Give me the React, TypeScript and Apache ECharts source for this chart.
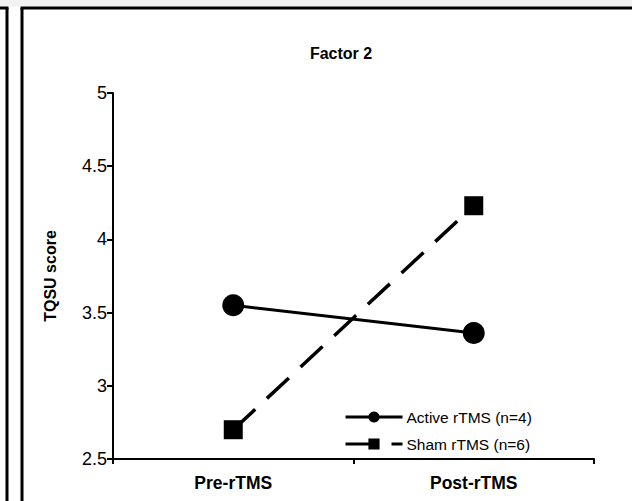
import React, { useEffect, useRef } from "react";
import * as echarts from "echarts";

const categories = ["Pre-rTMS", "Post-rTMS"];
const activeValues = [3.55, 3.36];
const shamValues = [2.7, 4.23];
const seriesNames = ["Active rTMS (n=4)", "Sham rTMS (n=6)"];
const yMin = 2.5;
const yMax = 5;
const yInterval = 0.5;
const titleText = "Factor 2";
const yAxisName = "TQSU score";

const FONT = "'Liberation Sans', Arial, sans-serif";

export default function App() {
  const ref = useRef<HTMLDivElement>(null);
  useEffect(() => {
    if (!ref.current) return;
    const chart = echarts.init(ref.current, undefined, { renderer: "svg" });
    chart.setOption({
      animation: false,
      backgroundColor: "#ffffff",
      graphic: [
        { type: "rect", shape: { x: 0, y: 0, width: 632, height: 6.5 }, style: { fill: "#f2f2f2" }, silent: true },
        { type: "line", shape: { x1: 7, y1: 8, x2: 7, y2: 501 }, style: { stroke: "#000", lineWidth: 3 }, silent: true },
        { type: "line", shape: { x1: 0, y1: 8, x2: 8.5, y2: 8 }, style: { stroke: "#000", lineWidth: 3 }, silent: true },
        { type: "line", shape: { x1: 22, y1: 8, x2: 22, y2: 501 }, style: { stroke: "#000", lineWidth: 3 }, silent: true },
        { type: "line", shape: { x1: 20.5, y1: 8, x2: 632, y2: 8 }, style: { stroke: "#000", lineWidth: 3 }, silent: true },
      ],
      title: {
        text: titleText,
        left: 336,
        textAlign: "center",
        top: 40,
        textStyle: { fontFamily: FONT, fontSize: 16, fontWeight: "bold", color: "#000" },
      },
      legend: {
        orient: "vertical",
        left: 339,
        top: 404,
        itemWidth: 57,
        itemHeight: 14,
        itemGap: 11,
        lineStyle: { width: 3 },
        textStyle: { fontFamily: FONT, fontSize: 15.5, color: "#000", padding: [0, 0, 0, -1] },
        data: seriesNames,
      },
      grid: { left: 113, right: 38, top: 93, bottom: 42 },
      xAxis: {
        type: "category",
        data: categories,
        boundaryGap: true,
        axisLine: { lineStyle: { color: "#000", width: 2 } },
        axisTick: { show: true, length: 5, alignWithLabel: false, lineStyle: { color: "#000", width: 2 } },
        axisLabel: { fontFamily: FONT, fontSize: 17.5, fontWeight: "bold", color: "#000", margin: 15 },
        splitLine: { show: false },
      },
      yAxis: {
        type: "value",
        min: yMin,
        max: yMax,
        interval: yInterval,
        name: yAxisName,
        nameLocation: "middle",
        nameGap: 55,
        nameTextStyle: { fontFamily: FONT, fontSize: 16, fontWeight: "bold", color: "#000" },
        axisLine: { show: true, lineStyle: { color: "#000", width: 2 } },
        axisTick: { show: true, length: 6, lineStyle: { color: "#000", width: 2 } },
        axisLabel: { fontFamily: FONT, fontSize: 18, color: "#000", margin: 6 },
        splitLine: { show: false },
      },
      series: [
        {
          name: seriesNames[0],
          type: "line",
          data: activeValues,
          symbol: "circle",
          symbolSize: 22,
          lineStyle: { color: "#000", width: 3, type: "solid" },
          itemStyle: { color: "#000" },
        },
        {
          name: seriesNames[1],
          type: "line",
          data: shamValues,
          symbol: "rect",
          symbolSize: 19,
          lineStyle: { color: "#000", width: 3.5, type: [30, 16] },
          itemStyle: { color: "#000" },
        },
      ],
    });
    return () => chart.dispose();
  }, []);
  return (
    <div
      ref={ref}
      style={{ position: "fixed", left: 0, top: 0, width: 632, height: 501 }}
    />
  );
}
